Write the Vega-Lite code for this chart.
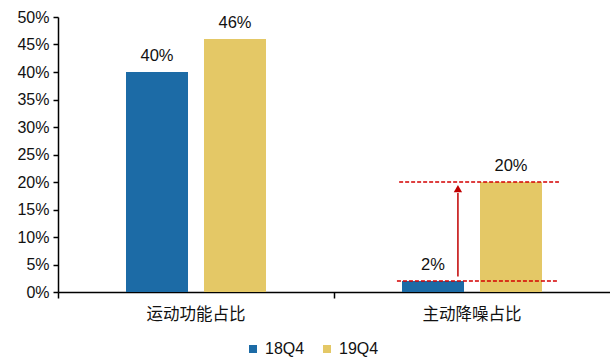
{
  "$schema": "https://vega.github.io/schema/vega-lite/v6.json",
  "width": 552,
  "height": 275,
  "autosize": {"type": "none"},
  "padding": {"left": 58, "top": 17, "right": 0, "bottom": 70},
  "background": "white",
  "config": {
    "view": {"stroke": null},
    "font": "Liberation Sans",
    "text": {"font": "Liberation Sans"}
  },
  "encoding": {
    "y": {
      "field": "value",
      "type": "quantitative",
      "title": null,
      "scale": {"domain": [0, 0.5], "nice": false},
      "axis": {
        "format": ".0%",
        "values": [0, 0.05, 0.1, 0.15, 0.2, 0.25, 0.3, 0.35, 0.4, 0.45, 0.5],
        "labelOverlap": false,
        "labelFlush": false,
        "grid": false,
        "labelFontSize": 16,
        "labelColor": "#111111",
        "labelPadding": 4,
        "domainColor": "#000000",
        "domainWidth": 1.5,
        "tickColor": "#000000",
        "tickSize": 5,
        "tickWidth": 1.5
      }
    }
  },
  "layer": [
    {
      "data": {
        "values": [
          {"cat": "运动功能占比", "series": "18Q4", "value": 0.40},
          {"cat": "运动功能占比", "series": "19Q4", "value": 0.46},
          {"cat": "主动降噪占比", "series": "18Q4", "value": 0.02},
          {"cat": "主动降噪占比", "series": "19Q4", "value": 0.20}
        ]
      },
      "encoding": {
        "x": {
          "field": "cat",
          "type": "nominal",
          "sort": null,
          "title": null,
          "scale": {"paddingInner": 0, "paddingOuter": 0},
          "axis": {
            "bandPosition": 0,
            "labelAngle": 0,
            "labelFont": "Noto Sans CJK SC",
            "labelFontSize": 16.5,
            "labelColor": "#111111",
            "labelPadding": 8,
            "domainColor": "#000000",
            "domainWidth": 1.5,
            "tickColor": "#000000",
            "tickSize": 6,
            "tickWidth": 1.5
          }
        },
        "xOffset": {
          "field": "series",
          "type": "nominal",
          "scale": {"paddingInner": 0.205, "paddingOuter": 0.872}
        }
      },
      "layer": [
        {
          "mark": {"type": "bar"},
          "encoding": {
            "color": {
              "field": "series",
              "type": "nominal",
              "scale": {"domain": ["18Q4", "19Q4"], "range": ["#1C6BA6", "#E4C866"]},
              "legend": {
                "title": null,
                "orient": "none",
                "legendX": 187,
                "legendY": 324,
                "direction": "horizontal",
                "symbolType": "square",
                "symbolSize": 64,
                "symbolStrokeWidth": 0,
                "labelFontSize": 16,
                "labelColor": "#111111",
                "columnPadding": 14
              }
            }
          }
        },
        {
          "mark": {"type": "text", "baseline": "bottom", "dy": -8, "fontSize": 16.5, "color": "#111111"},
          "encoding": {
            "text": {"field": "value", "type": "quantitative", "format": ".0%"}
          }
        }
      ]
    },
    {
      "data": {
        "values": [
          {"x1": 1.228, "x2": 1.808, "value": 0.02},
          {"x1": 1.236, "x2": 1.815, "value": 0.20}
        ]
      },
      "mark": {"type": "rule", "color": "#D40000", "strokeDash": [4, 2], "strokeWidth": 1.5},
      "encoding": {
        "x": {"field": "x1", "type": "quantitative", "scale": {"domain": [0, 2], "nice": false, "zero": false}, "axis": null},
        "x2": {"field": "x2"}
      }
    },
    {
      "data": {"values": [{"x": 1.449, "value": 0.028, "value2": 0.18}]},
      "mark": {"type": "rule", "color": "#C00000", "strokeWidth": 1.5},
      "encoding": {
        "x": {"field": "x", "type": "quantitative", "scale": {"domain": [0, 2], "nice": false, "zero": false}, "axis": null},
        "y2": {"field": "value2"}
      }
    },
    {
      "data": {"values": [{"x": 1.449, "value": 0.188}]},
      "mark": {"type": "point", "shape": "triangle-up", "filled": true, "color": "#C00000", "size": 70, "opacity": 1},
      "encoding": {
        "x": {"field": "x", "type": "quantitative", "scale": {"domain": [0, 2], "nice": false, "zero": false}, "axis": null}
      }
    }
  ],
  "resolve": {"scale": {"x": "independent"}}
}
